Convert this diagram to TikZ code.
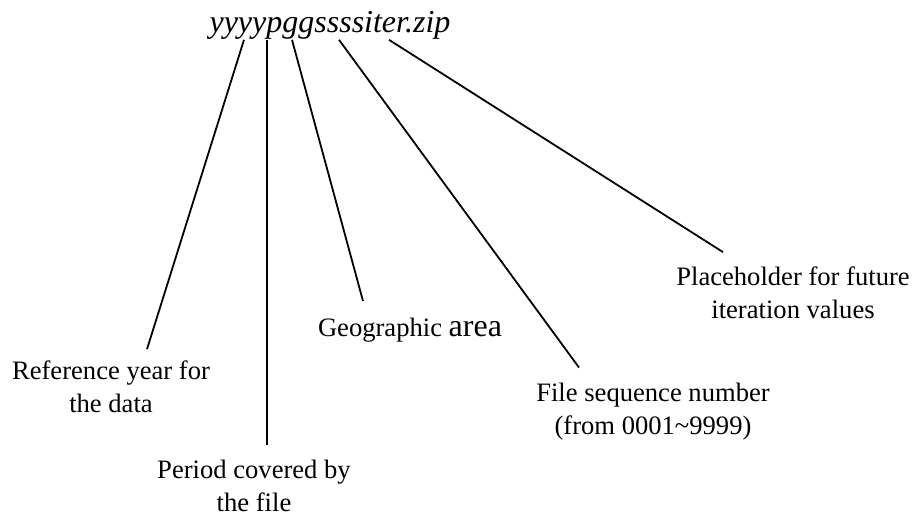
\documentclass[tikz,border=0pt]{standalone}
\usepackage{fontspec}
\setmainfont{Liberation Serif}
\usetikzlibrary{positioning}

\begin{document}
\begin{tikzpicture} [x=0.5pt,y=-0.5pt,line width=0.9pt,
  every node/.style={align=center,inner sep=0pt,font=\fontsize{13.3}{16.5}\selectfont}]
\useasboundingbox (0,0) rectangle (919,516);
\node (t) [anchor=base,font=\fontsize{16}{19}\selectfont\itshape] at (330,32) {yyyypggssssiter.zip};
\node (a) at (111,387) {Reference year for\\the data};
\node (b) at (254,486) {Period covered by\\the file};
\node (c) at (410,330) {Geographic {\fontsize{16}{19}\selectfont area}};
\node (d) at (653,412) {File sequence number\\(from 0001\textasciitilde 9999)};
\node (e) at (793,293) {Placeholder for future\\iteration values};

\draw[-]([xshift=-43pt]t.south)--([xshift=18pt,yshift=5.5pt]a.north);
\draw[-]([xshift=-31.5pt]t.south)--([xshift=6.5pt,yshift=7pt]b.north);
\draw[-]([xshift=-19pt]t.south)--([xshift=-23.5pt,yshift=8pt]c.north);
\draw[-]([xshift=4.5pt]t.south)--([xshift=-37pt,yshift=7.5pt]d.north);
\draw[-]([xshift=29.5pt]t.south)--([xshift=-35pt,yshift=7pt]e.north);
\end{tikzpicture}
\end{document}
